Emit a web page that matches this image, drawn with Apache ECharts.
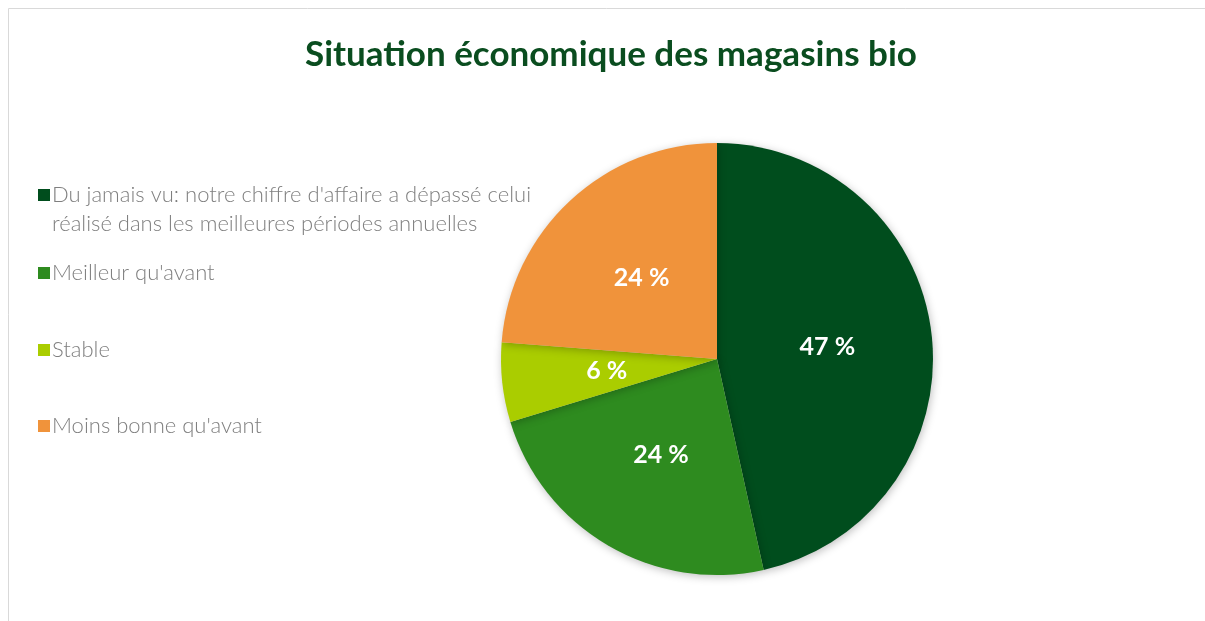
<!DOCTYPE html>
<html>
<head>
<meta charset="utf-8">
<script src="https://cdn.jsdelivr.net/npm/echarts@6/dist/echarts.min.js"></script>
<style>
  html, body { margin: 0; padding: 0; background: #fff; }
  #main { width: 1205px; height: 621px; }
</style>
</head>
<body>
<div id="main"></div>
<script>
var titleText = 'Situation économique des magasins bio'
var categories = [
  "Du jamais vu: notre chiffre d'affaire a dépassé celui\nréalisé dans les meilleures périodes annuelles",
  "Meilleur qu'avant",
  'Stable',
  "Moins bonne qu'avant"
]
var values = [47, 24, 6, 24]
var colors = ['#004d1d', '#2e8b1f', '#aacd00', '#f0933b']

var legendTops = [179, 257, 334, 410]
var font = 'Lato, "Open Sans", sans-serif'
var legendText = { color: '#7f7f7f', fontSize: 22, fontFamily: font, fontWeight: 300 }

const chart = echarts.init(document.querySelector('#main'))

var legends = categories.map(function (name, i) {
  return {
    data: [name],
    left: 33,
    top: legendTops[i],
    icon: 'rect',
    itemWidth: 12,
    itemHeight: 12,
    selectedMode: false,
    formatter: function (n) { return n.split('\n')[0] },
    textStyle: Object.assign({ padding: [0, 0, 0, -3] }, legendText)
  }
})

// continuation lines of wrapped legend names
var extraLines = []
categories.forEach(function (name, i) {
  name.split('\n').slice(1).forEach(function (line, k) {
    extraLines.push({
      type: 'text',
      left: 52,
      top: legendTops[i] + 29 * (k + 1) + 5,
      style: { text: line, fill: legendText.color, fontSize: legendText.fontSize, fontFamily: font, fontWeight: 300 }
    })
  })
})

var option = {
  animation: false,
  color: colors,
  title: {
    text: titleText,
    left: 300,
    top: 32,
    textStyle: { color: '#0a4d1f', fontSize: 35, fontWeight: 'bold', fontFamily: font }
  },
  graphic: [{
    type: 'polyline',
    shape: { points: [[8.5, 621], [8.5, 8.5], [1205, 8.5]] },
    style: { stroke: '#d9d9d9', lineWidth: 1, fill: null }
  }].concat(extraLines),
  legend: legends,
  series: [{
    type: 'pie',
    center: [717, 359],
    radius: 216,
    startAngle: 90,
    clockwise: true,
    label: {
      position: 'inside',
      formatter: '{c} %',
      color: '#fff',
      fontSize: 25,
      fontWeight: 'bold',
      fontFamily: font,
      padding: [4, 0, 0, 0]
    },
    labelLine: { show: false },
    itemStyle: { shadowBlur: 8, shadowColor: 'rgba(0,0,0,0.25)', shadowOffsetX: 1, shadowOffsetY: 2 },
    emphasis: { disabled: true },
    data: categories.map(function (c, i) { return { name: c, value: values[i] } })
  }]
}
chart.setOption(option)
</script>
</body>
</html>
